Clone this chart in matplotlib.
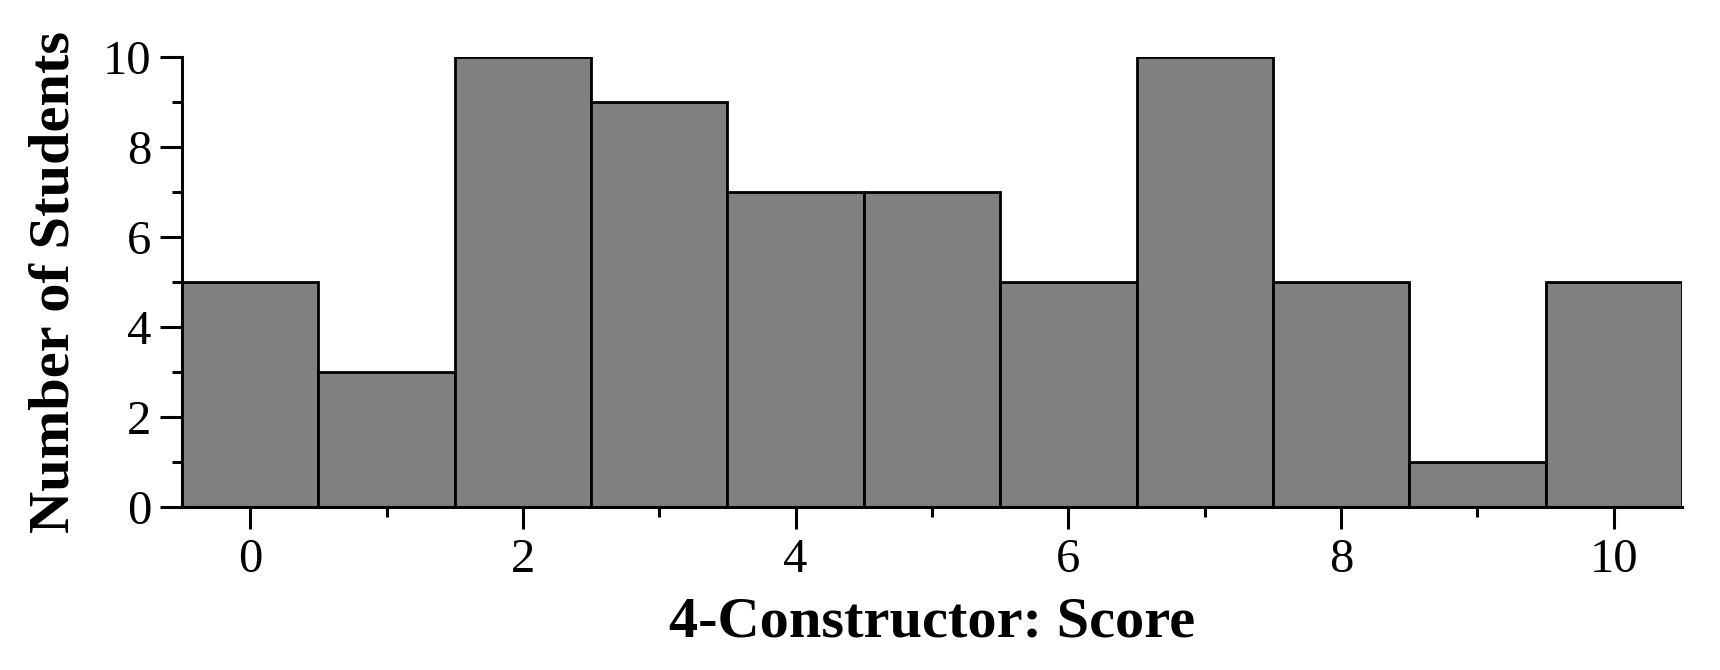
import numpy as np
import matplotlib
matplotlib.use("Agg")
import matplotlib.pyplot as plt
from matplotlib.ticker import MultipleLocator

# histogram of scores
scores = [0, 1, 2, 3, 4, 5, 6, 7, 8, 9, 10]
counts = [5, 3, 10, 9, 7, 7, 5, 10, 5, 1, 5]

plt.rcParams['font.family'] = ['Liberation Serif', 'DejaVu Serif']

fig = plt.figure(figsize=(17.2, 6.7), dpi=100)
ax = fig.add_axes([182/1720, 1 - 507/670, 1500/1720, 450/670])

ax.bar(scores, counts, width=1.0, color='#808080', edgecolor='black', linewidth=2)

ax.set_xlim(-0.5, 10.5)
ax.set_ylim(0, 10)
ax.xaxis.set_major_locator(MultipleLocator(2))
ax.xaxis.set_minor_locator(MultipleLocator(1))
ax.yaxis.set_major_locator(MultipleLocator(2))
ax.yaxis.set_minor_locator(MultipleLocator(1))

for s in ['top', 'right']:
    ax.spines[s].set_visible(False)
for s in ['left', 'bottom']:
    ax.spines[s].set_linewidth(2.2)

ax.tick_params(which='major', direction='out', length=16, width=2.2, labelsize=35, pad=6)
ax.tick_params(which='minor', direction='out', length=7, width=2.2)

ax.set_xlabel('4-Constructor: Score', fontsize=42, fontweight='bold', labelpad=11)
ax.set_ylabel('Number of Students', fontsize=42, fontweight='bold', labelpad=16)

fig.savefig('out.png', dpi=100)
